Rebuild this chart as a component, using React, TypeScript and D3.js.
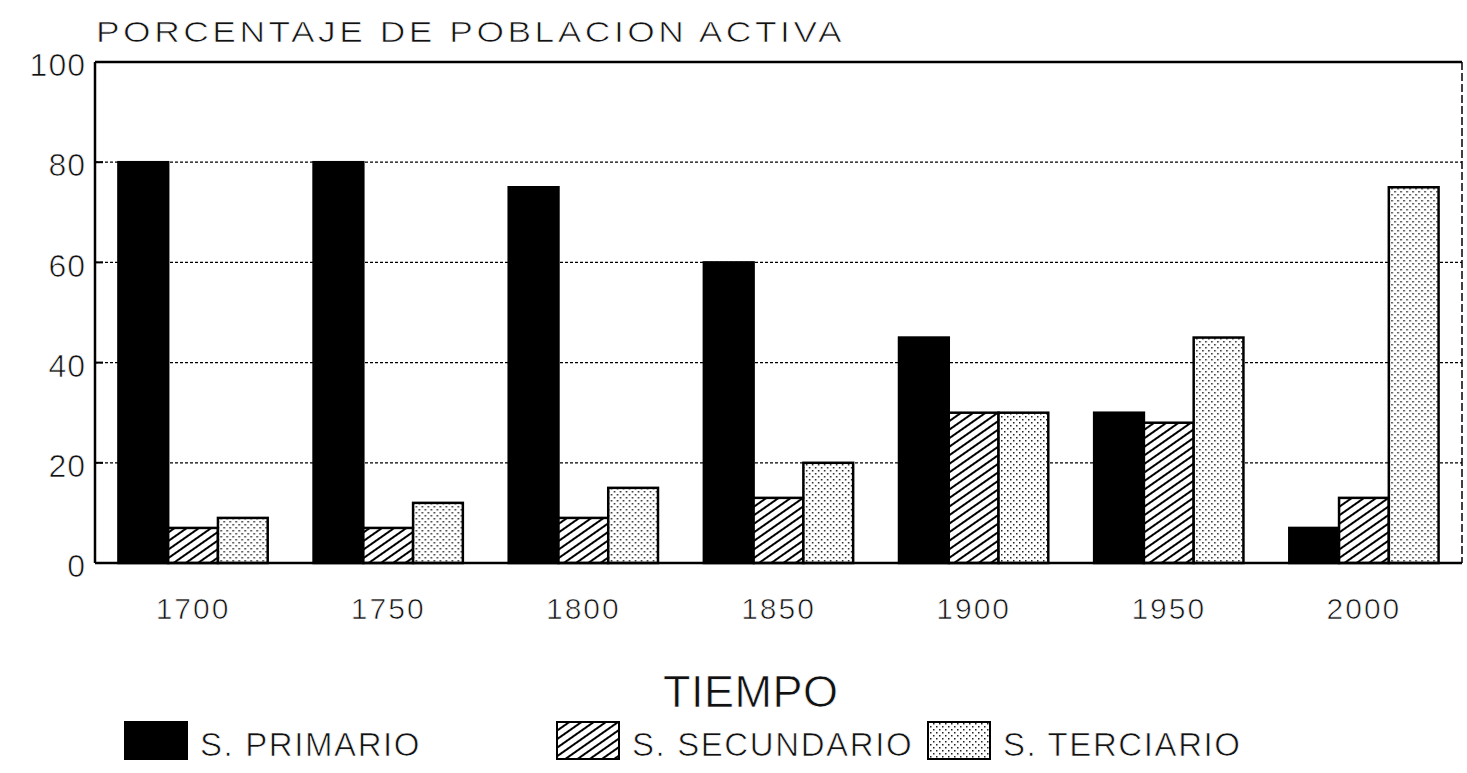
import React from "react";
import * as d3 from "d3";

const years = ["1700", "1750", "1800", "1850", "1900", "1950", "2000"];
const primario = [80, 80, 75, 60, 45, 30, 7];
const secundario = [7, 7, 9, 13, 30, 28, 13];
const terciario = [9, 12, 15, 20, 30, 45, 75];
const seriesNames = ["S. PRIMARIO", "S. SECUNDARIO", "S. TERCIARIO"];
const yTicks = [0, 20, 40, 60, 80, 100];

const FONT = "'Liberation Sans', Arial, sans-serif";
// thin the glyphs a little, the original is a light plotter font
const thin = { stroke: "#fff", strokeWidth: 0.7 };

export default function App() {
  const W = 1467, H = 773;
  const margin = { top: 62, left: 95 };
  const innerW = 1462 - margin.left;
  const innerH = 563 - margin.top;

  const x = d3.scaleBand().domain(years).range([0, innerW]).paddingInner(0.235).paddingOuter(0.12);
  const sub = d3.scaleBand().domain(seriesNames).range([0, x.bandwidth()]);
  const y = d3.scaleLinear().domain([0, 100]).range([innerH, 0]);

  const fills = ["#000", "url(#hatch)", "url(#dots)"];
  const data = [primario, secundario, terciario];

  const legendX = [125, 557, 928];

  return (
    <svg width={W} height={H} style={{ display: "block", position: "absolute", left: 0, top: 0, background: "#fff" }}>
      <defs>
        <pattern id="hatch" patternUnits="userSpaceOnUse" width="7" height="7" patternTransform="rotate(-35)">
          <rect width="7" height="7" fill="#fff" />
          <line x1="0" y1="0" x2="7" y2="0" stroke="#000" strokeWidth="4" />
        </pattern>
        <pattern id="dots" patternUnits="userSpaceOnUse" width="6" height="6">
          <rect width="6" height="6" fill="#fff" />
          <rect x="0" y="0" width="1.5" height="1.5" fill="#222" />
          <rect x="3" y="3" width="1.5" height="1.5" fill="#222" />
        </pattern>
      </defs>
      <text x={96} y={42} fontFamily={FONT} fontSize={30} letterSpacing="3" textLength={749} lengthAdjust="spacingAndGlyphs" fill="#111" {...thin}>PORCENTAJE DE POBLACION ACTIVA</text>
      <g transform={`translate(${margin.left},${margin.top})`}>
        {yTicks.filter(t => t > 0 && t < 100).map(t => (
          <g key={t}>
            <line x1={0} x2={innerW} y1={y(t)} y2={y(t)} stroke="#000" strokeWidth={1.2} strokeDasharray="3,2" />
            <line x1={0} x2={8} y1={y(t)} y2={y(t)} stroke="#000" strokeWidth={2} />
          </g>
        ))}
        {years.map((yr, i) => (
          <g key={yr} transform={`translate(${x(yr)},0)`}>
            {data.map((s, j) => (
              <rect key={j} x={sub(seriesNames[j])} y={y(s[i])} width={sub.bandwidth()} height={innerH - y(s[i])}
                fill={fills[j]} stroke="#000" strokeWidth={2.5} />
            ))}
          </g>
        ))}
        <line x1={0} x2={innerW} y1={0} y2={0} stroke="#000" strokeWidth={2.5} />
        <line x1={0} x2={innerW} y1={innerH} y2={innerH} stroke="#000" strokeWidth={2.5} />
        <line x1={0} x2={0} y1={0} y2={innerH} stroke="#000" strokeWidth={2.5} />
        <line x1={innerW} x2={innerW} y1={0} y2={innerH} stroke="#000" strokeWidth={1.5} strokeDasharray="8,3" />
        {yTicks.map(t => (
          <text key={t} x={-9} y={y(t) + 3} dy="0.35em" textAnchor="end" fontFamily={FONT} fontSize={32} letterSpacing="1" fill="#111" {...thin}>{t}</text>
        ))}
        {years.map(yr => (
          <text key={yr} x={(x(yr) as number) + x.bandwidth() / 2} y={innerH + 56} textAnchor="middle" fontFamily={FONT} fontSize={30} letterSpacing="2" fill="#111" {...thin}>{yr}</text>
        ))}
        <text x={innerW / 2 - 28} y={innerH + 144} textAnchor="middle" fontFamily={FONT} fontSize={45} textLength={175} lengthAdjust="spacing" fill="#111" {...thin}>TIEMPO</text>
      </g>
      {seriesNames.map((n, j) => (
        <g key={n}>
          <rect x={legendX[j]} y={722} width={62} height={37} fill={fills[j]} stroke="#000" strokeWidth={2} />
          <text x={legendX[j] + 75} y={756} fontFamily={FONT} fontSize={33} letterSpacing="1.6" fill="#111" {...thin}>{n}</text>
        </g>
      ))}
    </svg>
  );
}
